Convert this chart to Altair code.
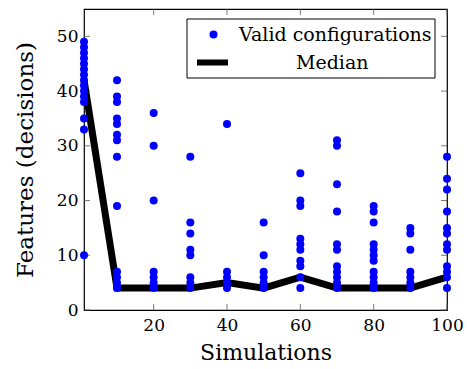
import altair as alt
import pandas as pd

# ---- data ----
sim_1 = [10, 33, 35, 38, 39, 40, 41, 42, 43, 44, 45, 46, 47, 48, 49]
sim_10 = [4, 5, 6, 7, 19, 28, 31, 32, 34, 35, 38, 39, 42]
sim_20 = [4, 5, 6, 7, 20, 30, 36]
sim_30 = [4, 5, 6, 10, 11, 14, 16, 28]
sim_40 = [4, 5, 6, 7, 34]
sim_50 = [4, 5, 6, 7, 10, 16]
sim_60 = [4, 6, 8, 9, 11, 12, 13, 19, 20, 25]
sim_70 = [4, 5, 6, 7, 8, 11, 12, 18, 23, 30, 31]
sim_80 = [4, 5, 6, 7, 9, 10, 11, 12, 16, 18, 19]
sim_90 = [4, 5, 6, 7, 11, 14, 15]
sim_100 = [4, 6, 7, 8, 11, 12, 14, 15, 18, 22, 24, 28]

simulations = [1, 10, 20, 30, 40, 50, 60, 70, 80, 90, 100]
median = [42, 4, 4, 4, 5, 4, 6, 4, 4, 4, 6]

x_ticks = [20, 40, 60, 80, 100]
y_ticks = [0, 10, 20, 30, 40, 50]

groups = [sim_1, sim_10, sim_20, sim_30, sim_40, sim_50, sim_60, sim_70,
          sim_80, sim_90, sim_100]
rows = []
for s, vals in zip(simulations, groups):
    for v in vals:
        rows.append({"sim": s, "feat": v, "series": "Valid configurations"})
pts = pd.DataFrame(rows)
med = pd.DataFrame({"sim": simulations, "feat": median, "series": "Median"})

FONT = "DejaVu Serif"
xs = alt.Scale(domain=[1, 100], nice=False, zero=False)
ys = alt.Scale(domain=[0, 55], nice=False)

xaxis = alt.Axis(values=x_ticks, ticks=False, domain=False, grid=False,
                 labelFlush=False, labelOverlap=False,
                 labelFont=FONT, labelFontSize=17, labelColor="black",
                 labelPadding=7, title="Simulations", titleFont=FONT,
                 titleFontSize=22, titleFontWeight="normal", titleColor="black",
                 titlePadding=9)
yaxis = alt.Axis(values=y_ticks, ticks=False, domain=False, grid=False,
                 labelFlush=False, labelOverlap=False,
                 labelFont=FONT, labelFontSize=17, labelColor="black",
                 labelPadding=6, title="Features (decisions)", titleFont=FONT,
                 titleFontSize=23, titleFontWeight="normal", titleColor="black",
                 titlePadding=19)

line = alt.Chart(med).mark_line(strokeWidth=7, strokeJoin="miter", clip=False).encode(
    x=alt.X("sim:Q", scale=xs, axis=xaxis),
    y=alt.Y("feat:Q", scale=ys, axis=yaxis),
    color=alt.Color("series:N",
                    scale=alt.Scale(domain=["Median"], range=["black"]),
                    legend=alt.Legend(title=None, orient="none", legendX=110,
                                      legendY=35, symbolType="stroke",
                                      symbolSize=961, symbolStrokeWidth=6,
                                      labelOffset=65, labelFont=FONT,
                                      labelFontSize=19, labelColor="black",
                                      labelLimit=400, padding=0)),
)

points = alt.Chart(pts).mark_circle(size=64, opacity=1, clip=False).encode(
    x=alt.X("sim:Q", scale=xs),
    y=alt.Y("feat:Q", scale=ys),
    color=alt.Color("series:N",
                    scale=alt.Scale(domain=["Valid configurations"], range=["#0000ff"]),
                    legend=alt.Legend(title=None, orient="none", legendX=120,
                                      legendY=16, symbolType="circle",
                                      symbolSize=64, labelOffset=16,
                                      labelFont=FONT, labelFontSize=19,
                                      labelColor="black", labelLimit=400,
                                      padding=0)),
)

# inward ticks
xt = pd.DataFrame({"v": x_ticks})
yt = pd.DataFrame({"v": y_ticks})
tick_style = dict(color="#555555", strokeWidth=0.8)
xb = alt.Chart(xt).mark_rule(**tick_style).encode(
    x=alt.X("v:Q", scale=xs), y=alt.value(301), y2=alt.value(295))
xtp = alt.Chart(xt).mark_rule(**tick_style).encode(
    x=alt.X("v:Q", scale=xs), y=alt.value(0), y2=alt.value(6))
yl = alt.Chart(yt).mark_rule(**tick_style).encode(
    y=alt.Y("v:Q", scale=ys), x=alt.value(0), x2=alt.value(6))
yr = alt.Chart(yt).mark_rule(**tick_style).encode(
    y=alt.Y("v:Q", scale=ys), x=alt.value(363), x2=alt.value(357))

frame = alt.Chart(pd.DataFrame({"a": [0]})).mark_rect(
    fill="white", stroke="black", strokeWidth=1).encode(
    x=alt.value(103), x2=alt.value(351), y=alt.value(10), y2=alt.value(69))

chart = alt.layer(xb, xtp, yl, yr, line, points, frame).resolve_scale(
    color="independent"
).properties(
    width=363, height=301,
    autosize=alt.AutoSizeParams(type="none"),
    padding={"left": 84, "top": 9, "right": 20, "bottom": 59},
    background="white",
).configure_view(stroke="black", strokeWidth=1.2)

chart.save("out.html", embed_options={"renderer": "svg", "actions": False})
